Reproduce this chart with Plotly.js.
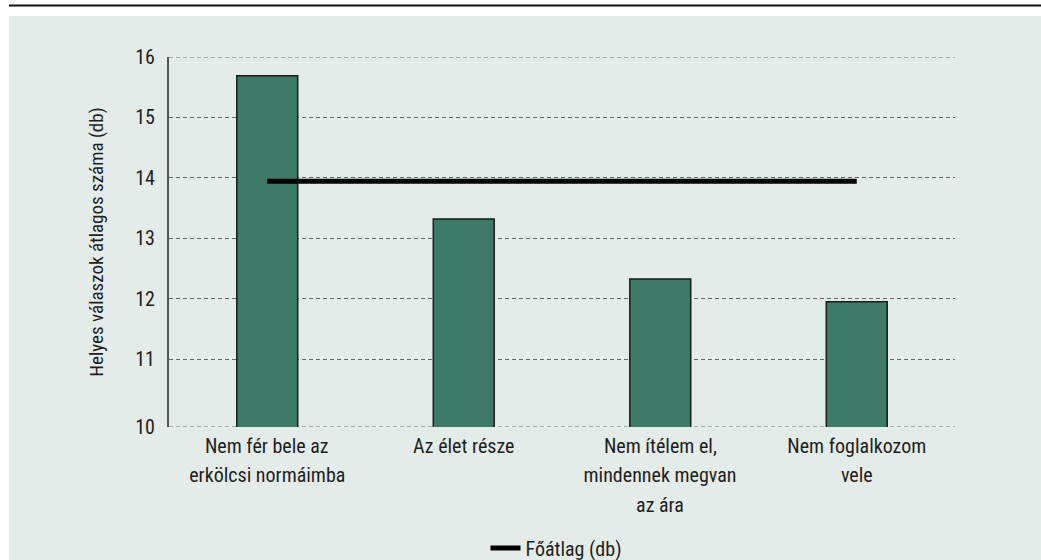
<!DOCTYPE html>
<html>
<head>
<meta charset="utf-8">
<script src="https://cdn.plot.ly/plotly-3.0.1.min.js"></script>
<style>
html,body{margin:0;padding:0;background:#ffffff;}
#chart{width:1041px;height:560px;}
#chart text{font-stretch:75% !important;}
</style>
</head>
<body>
<div id="chart"></div>
<script>
const categories = [
  "Nem fér bele az<br>erkölcsi normáimba",
  "Az élet része",
  "Nem ítélem el,<br>mindennek megvan<br>az ára",
  "Nem foglalkozom<br>vele"
];
const barValues = [15.69, 13.32, 12.33, 11.95];
const grandMean = [13.945, 13.945, 13.945, 13.945];
const yTickLabels = ["10", "11", "12", "13", "14", "15", "16"];
const yTickValues = [10, 11, 12, 13, 14, 15, 16];
const yTitle = "Helyes válaszok átlagos száma (db)";
const meanName = "Főátlag (db)";

// In the original the bottom "10" line sits slightly below the regular step
const AXIS_FLOOR = 9.88;
const AXIS_TOP = 16;

const FONT = 'Roboto, "Liberation Sans", sans-serif';
const TEXT = '#1e1e1e';
const BG = '#e4ece9';
const GRID = '#666666';
const GRIDDASH = '4px,3px';

const M = {l: 169, r: 86, t: 57, b: 133};
const PLOT_H = 560 - M.t - M.b;   // 370
const PLOT_W = 1041 - M.l - M.r;  // 786
const LABEL_TOP = 19;
const LABEL_STEP = 29.5;

const traces = [
  {
    type: 'bar',
    x: categories,
    y: barValues,
    showlegend: false,
    marker: {color: '#3e7a68', line: {color: '#1a1a1a', width: 1.5}},
    hoverinfo: 'skip'
  },
  {
    type: 'scatter',
    mode: 'lines',
    x: categories,
    y: grandMean,
    name: meanName,
    line: {color: '#000000', width: 5},
    hoverinfo: 'skip'
  }
];

const labelAnnotations = [];
categories.forEach(cat => {
  cat.split('<br>').forEach((line, i) => {
    labelAnnotations.push({
      x: cat, xref: 'x',
      y: -(LABEL_TOP + i * LABEL_STEP) / PLOT_H, yref: 'paper',
      xanchor: 'center', yanchor: 'middle',
      text: line, showarrow: false,
      font: {family: FONT, size: 20, color: TEXT}
    });
  });
});

// the lowest tick label ("10") is drawn on the axis floor line
const tickPositions = yTickValues.map((v, i) => i === 0 ? AXIS_FLOOR : v);

const edgeGrid = [AXIS_FLOOR, AXIS_TOP].map(v => ({
  type: 'line', xref: 'paper', yref: 'y', layer: 'below',
  x0: 0, x1: 1, y0: v, y1: v,
  line: {color: GRID, width: 1, dash: GRIDDASH}
}));

const layout = {
  width: 1041,
  height: 560,
  margin: {l: M.l, r: M.r, t: M.t, b: M.b, autoexpand: false},
  paper_bgcolor: '#ffffff',
  plot_bgcolor: 'rgba(0,0,0,0)',
  font: {family: FONT, color: TEXT, size: 20},
  bargap: 0.69,
  xaxis: {
    type: 'category',
    showgrid: false,
    showline: false,
    zeroline: false,
    ticks: '',
    showticklabels: false,
    fixedrange: true
  },
  yaxis: {
    range: [AXIS_FLOOR, AXIS_TOP],
    tickvals: tickPositions,
    ticktext: yTickLabels,
    showgrid: true,
    gridcolor: GRID,
    griddash: GRIDDASH,
    gridwidth: 1,
    zeroline: false,
    showline: true,
    linecolor: '#555555',
    linewidth: 2,
    ticks: '',
    ticklabelstandoff: 8,
    tickfont: {family: FONT, size: 20, color: TEXT},
    title: {text: yTitle, font: {family: FONT, size: 19, color: TEXT}, standoff: 24},
    fixedrange: true
  },
  showlegend: true,
  legend: {
    orientation: 'h',
    x: 0.5, xanchor: 'center',
    y: -(548 - (560 - M.b)) / PLOT_H, yanchor: 'middle',
    font: {family: FONT, size: 20, color: TEXT},
    bgcolor: 'rgba(0,0,0,0)'
  },
  annotations: labelAnnotations,
  shapes: [
    {type: 'rect', xref: 'paper', yref: 'paper', layer: 'below',
     x0: (9 - M.l) / PLOT_W, x1: (1041 - M.l) / PLOT_W + 0.01,
     y0: -M.b / PLOT_H - 0.01, y1: 1 + (M.t - 16) / PLOT_H,
     fillcolor: BG, line: {width: 0}},
    {type: 'line', xref: 'paper', yref: 'paper', layer: 'above',
     x0: (9 - M.l) / PLOT_W, x1: (1041 - M.l) / PLOT_W + 0.01,
     y0: 1 + (M.t - 5.5) / PLOT_H, y1: 1 + (M.t - 5.5) / PLOT_H,
     line: {color: '#111111', width: 2}}
  ].concat(edgeGrid)
};

Plotly.newPlot('chart', traces, layout, {displayModeBar: false, staticPlot: true});
</script>
</body>
</html>
